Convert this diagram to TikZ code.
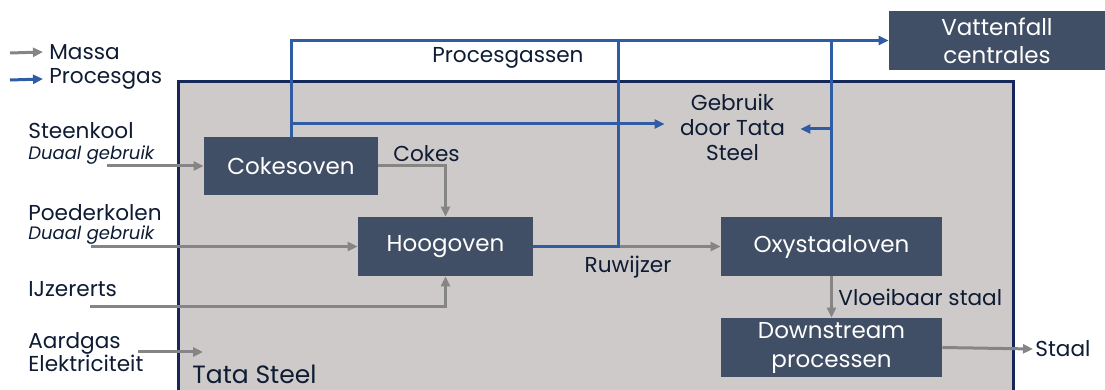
\documentclass[tikz,border=0pt]{standalone}
\usepackage{fontspec}
\setmainfont{Poppins}
\usetikzlibrary{arrows.meta}

\definecolor{boxfill}{HTML}{414F66}
\definecolor{tatagray}{HTML}{CECAC9}
\definecolor{tatanavy}{HTML}{16275A}
\definecolor{gasblue}{HTML}{2F5CA5}
\definecolor{massagray}{HTML}{858585}
\definecolor{textdark}{HTML}{0D1B33}

\tikzset{
  unitbox/.style={fill=boxfill, text=white, inner sep=0pt, align=center,
    font=\fontsize{11.5}{14.5}\selectfont},
  lbl/.style={inner sep=1pt, text=textdark},
  dual/.style={inner sep=1pt, text=textdark, font=\fontsize{9}{10}\selectfont\itshape},
  massa/.style={draw=massagray, line width=1.5pt, -{Triangle[length=5pt,width=4.5pt]}},
  massaline/.style={draw=massagray, line width=1.5pt},
  gas/.style={draw=gasblue, line width=1.5pt, -{Triangle[length=5pt,width=4.5pt]}},
  gasline/.style={draw=gasblue, line width=1.5pt}
}

\begin{document}
\begin{tikzpicture}[x=0.5pt, y=-0.5pt, font=\fontsize{10.8}{12.5}\selectfont]
  \useasboundingbox (0,0) rectangle (1105,390);
  \clip (0,0) rectangle (1105,390);

  % terrein Tata Steel
  \draw[fill=tatagray, draw=tatanavy, line width=1.5pt] (178,82) rectangle (1013,410);
  \node[lbl, anchor=west, font=\fontsize{12.5}{15}\selectfont] (tata) at (190,374) {Tata Steel};

  % legenda
  \coordinate (lgmassa) at (10,53);
  \coordinate (lggas) at (10,80);
  \node[lbl, anchor=west, inner xsep=3pt] (massalbl) at (43,52) {Massa};
  \node[lbl, anchor=west, inner xsep=3pt] (gaslbl) at (43,79) {Procesgas};
  \draw[massa] (lgmassa) -- (massalbl.west);
  \draw[gas] (lggas) -- (gaslbl.west);

  % installaties
  \node[unitbox, minimum width=87pt, minimum height=29pt] (cokes) at (291,166) {Cokesoven};
  \node[unitbox, minimum width=87.5pt, minimum height=29.5pt] (hoog) at (445.5,246.5) {Hoogoven};
  \node[unitbox, minimum width=110.5pt, minimum height=29.5pt] (oxy) at (831.5,246.5) {Oxystaaloven};
  \node[unitbox, minimum width=110.5pt, minimum height=29.5pt] (down) at (831.5,347.5) {Downstream\\processen};
  \node[unitbox, minimum width=108pt, minimum height=29.5pt, font=\fontsize{11.5}{14}\selectfont] (vatt) at (997,40.5) {Vattenfall\\centrales};
  \node[lbl, align=center, minimum width=67.5pt, font=\fontsize{10.8}{12.5}\selectfont] (gebruik) at (732.5,127) {Gebruik\\door Tata\\Steel};

  % invoer links
  \node[lbl, anchor=west] (steenkool) at (26,131) {Steenkool};
  \node[dual, anchor=west] (duaal1) at (26,155) {Duaal gebruik};
  \node[lbl, anchor=west] (poeder) at (26,213) {Poederkolen};
  \node[dual, anchor=west] (duaal2) at (26,235) {Duaal gebruik};
  \node[lbl, anchor=west] (erts) at (26,289) {IJzererts};
  \node[lbl, anchor=west, align=left, font=\fontsize{10.8}{11.5}\selectfont] (energie) at (26,352) {Aardgas\\Elektriciteit};

  \coordinate (steenkoolin) at (107,166);
  \coordinate (poederin) at (91,246.5);
  \coordinate (ertsin) at (90,307);
  \coordinate (energiein) at (138,352);
  \coordinate (energieuit) at (203,352);

  % massastromen
  \draw[massa] (steenkoolin) -- (cokes.west);
  \draw[massa] (cokes.east) -| (hoog.north);
  \node[lbl, anchor=west] (cokeslbl) at (391,154) {Cokes};
  \draw[massa] (poederin) -- (hoog.west);
  \draw[massa] (ertsin) -| (hoog.south);
  \draw[massa] (energiein) -- (energieuit);

  \coordinate (ruw) at (618,246.5);
  \draw[massa] (ruw) -- (oxy.west);
  \node[lbl] (ruwlbl) at (628,267) {Ruwijzer};
  \draw[massa] (oxy.south) -- (down.north);
  \node[lbl, anchor=west] (vloeilbl) at (836,297) {Vloeibaar staal};
  \node[lbl, anchor=west] (staal) at (1033,349) {Staal};
  \draw[massa] (down.east) -- (staal.west);

  % procesgassen
  \draw[gas] (cokes.north) |- (vatt.west);
  \draw[gasline] (hoog.east) -- (ruw) -- (ruw |- vatt.west);
  \draw[gasline] (oxy.north) -- (oxy.north |- vatt.west);
  \coordinate (tapcokes) at (291,124);
  \coordinate (tapoxy) at (831.5,129);
  \draw[gas] (tapcokes) -- (tapcokes -| gebruik.west);
  \draw[gas] (tapoxy) -- (tapoxy -| gebruik.east);
  \node[lbl] (gaslabel) at (508,58) {Procesgassen};
\end{tikzpicture}
\end{document}
